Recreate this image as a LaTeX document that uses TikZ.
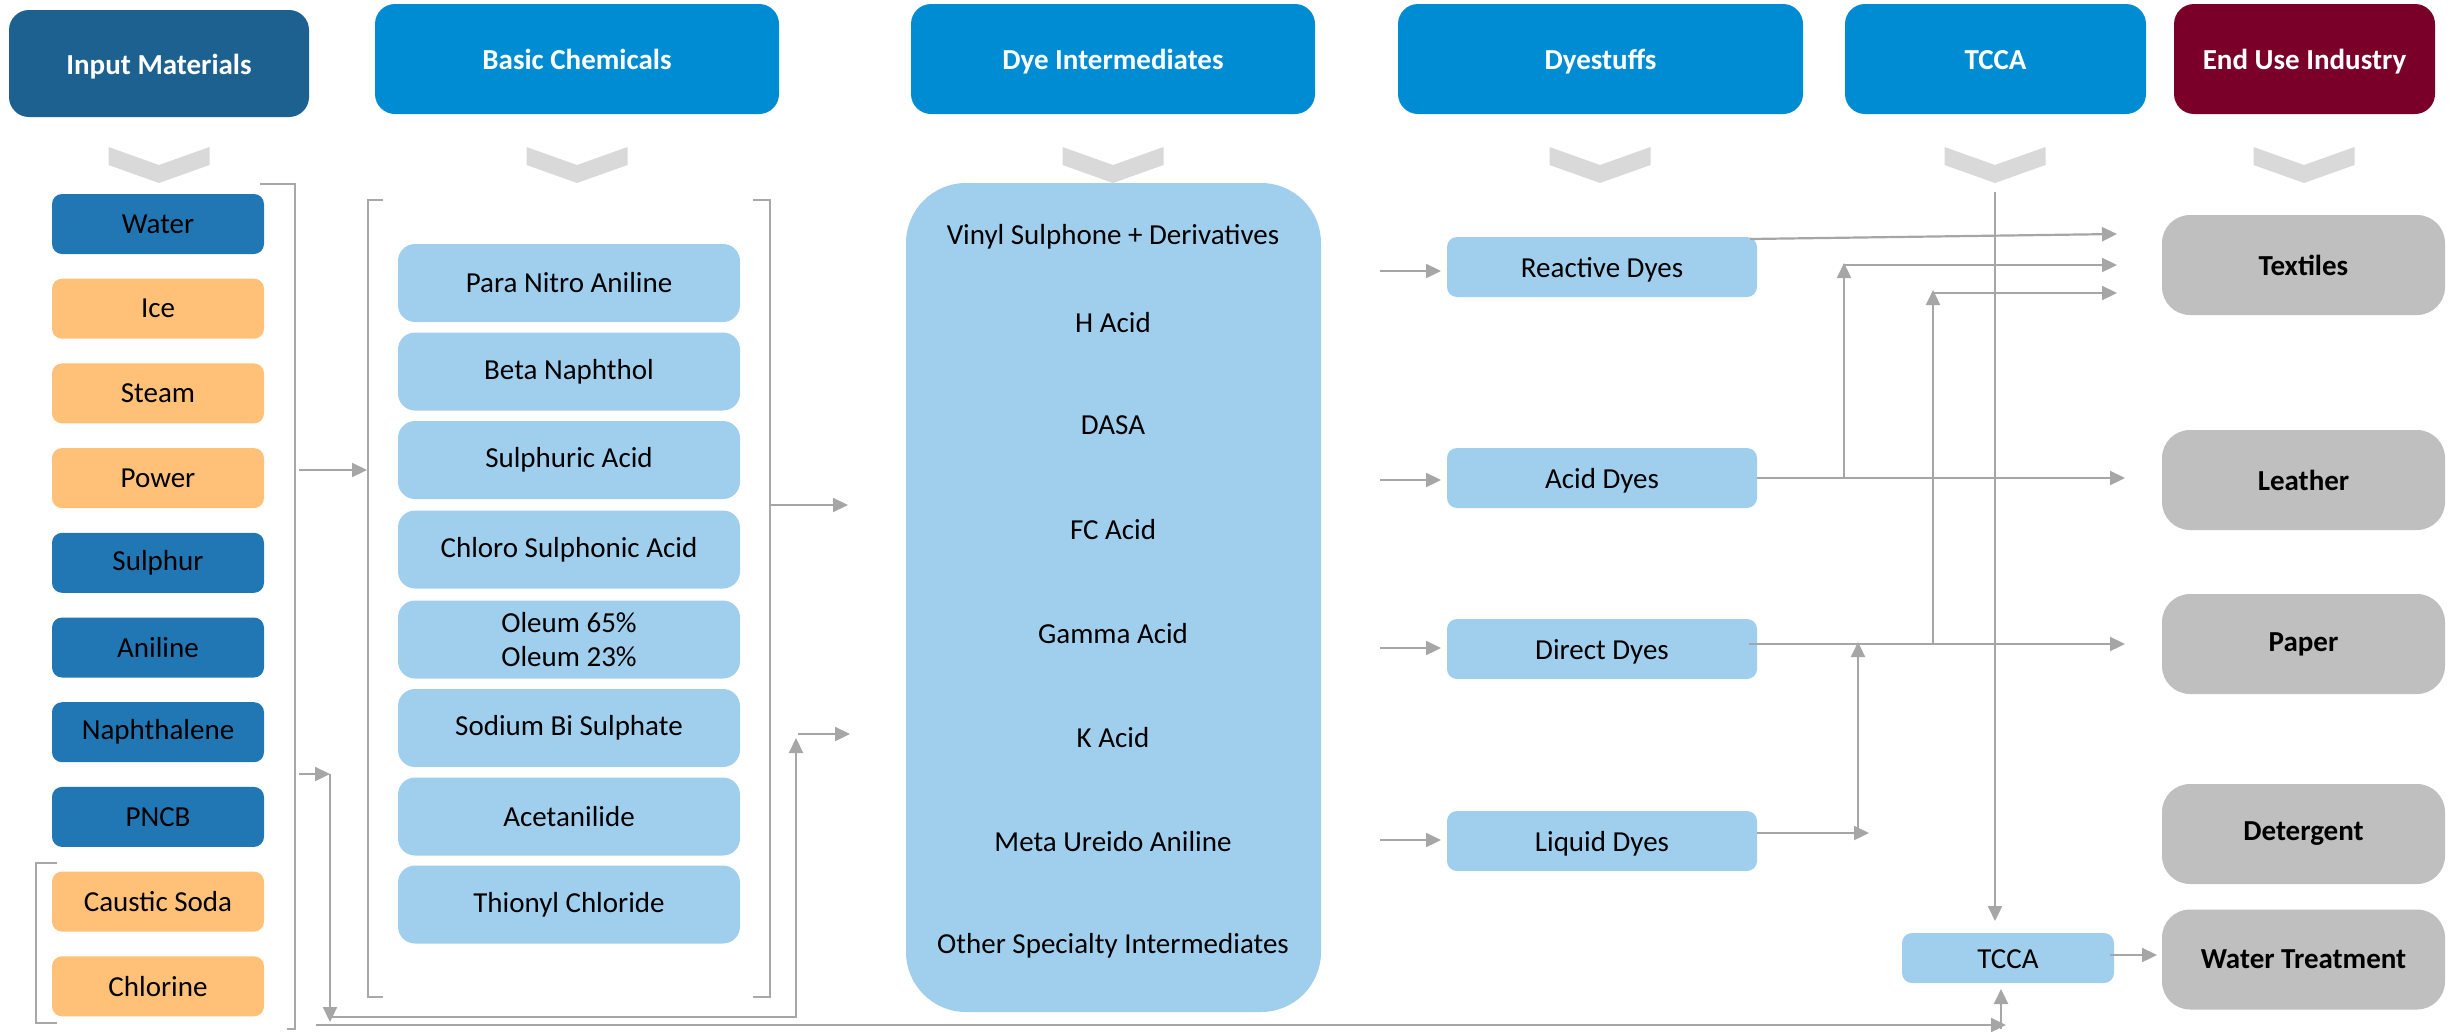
\documentclass[tikz,border=0pt]{standalone}
\usepackage{fontspec}
\setmainfont{Carlito}
\usetikzlibrary{arrows.meta,calc}
\definecolor{hdrdark}{HTML}{1D6191}
\definecolor{hdrblue}{HTML}{008CD3}
\definecolor{hdrred}{HTML}{7A0029}
\definecolor{itemdark}{HTML}{2077B4}
\definecolor{itemorange}{HTML}{FFC177}
\definecolor{itemlight}{HTML}{A0CFEE}
\definecolor{enduse}{HTML}{BFBFBF}
\definecolor{chevgray}{HTML}{D9D9D9}
\definecolor{linegray}{HTML}{A6A6A6}
\definecolor{brgray}{HTML}{A8A8A8}
\newcommand\txtfont{\fontsize{29}{34}\selectfont}
\begin{document}
\begin{tikzpicture}[x=1pt,y=-1pt,
  every node/.style={inner sep=0pt, outer sep=0pt, align=center},
  hdr/.style={rounded corners=20pt, minimum height=110pt, text=white, font=\txtfont\bfseries, text height=21.5pt, text depth=0pt},
  inbox/.style={rounded corners=10pt, minimum width=212pt, minimum height=60pt, font=\txtfont},
  bcbox/.style={fill=itemlight, rounded corners=17pt, minimum width=342pt, minimum height=78pt, font=\txtfont},
  ditxt/.style={font=\txtfont},
  dsbox/.style={fill=itemlight, rounded corners=10pt, minimum width=310pt, minimum height=60pt, font=\txtfont, text height=22pt, text depth=2pt},
  eubox/.style={fill=enduse, rounded corners=28pt, minimum width=283pt, minimum height=100pt, font=\txtfont\bfseries},
  brk/.style={draw=brgray, line width=2pt},
  arr/.style={draw=linegray, line width=2.2pt, -{Triangle[length=15pt,width=14pt]}},
  ln/.style={draw=linegray, line width=2.2pt}
]
\useasboundingbox (0,0) rectangle (2450,1031);

% headers
\node[hdr, fill=hdrdark, minimum width=300pt, minimum height=107pt] (hIn) at (159,63.5) {Input Materials};
\node[hdr, fill=hdrblue, minimum width=404pt] (hBC) at (577,59) {Basic Chemicals};
\node[hdr, fill=hdrblue, minimum width=404pt] (hDI) at (1113,59) {Dye Intermediates};
\node[hdr, fill=hdrblue, minimum width=405pt] (hDS) at (1600.5,59) {Dyestuffs};
\node[hdr, fill=hdrblue, minimum width=301pt] (hTC) at (1995.5,59) {TCCA};
\node[hdr, fill=hdrred, minimum width=261pt] (hEU) at (2304.5,59) {End Use Industry};

% chevrons
\foreach \cx in {159,577,1113,1600,1995,2304}
  \fill[chevgray] (\cx-50.5,147) -- (\cx,165) -- (\cx+50.5,147) -- (\cx+50.5,165) -- (\cx,183) -- (\cx-50.5,165) -- cycle;

% input materials
\node[inbox, fill=itemdark]   (in0) at (158,224.0) {Water};
\node[inbox, fill=itemorange] (in1) at (158,308.7) {Ice};
\node[inbox, fill=itemorange] (in2) at (158,393.4) {Steam};
\node[inbox, fill=itemorange] (in3) at (158,478.1) {Power};
\node[inbox, fill=itemdark]   (in4) at (158,562.8) {Sulphur};
\node[inbox, fill=itemdark]   (in5) at (158,647.5) {Aniline};
\node[inbox, fill=itemdark]   (in6) at (158,732.2) {Naphthalene};
\node[inbox, fill=itemdark]   (in7) at (158,816.9) {PNCB};
\node[inbox, fill=itemorange] (in8) at (158,901.6) {Caustic Soda};
\node[inbox, fill=itemorange] (in9) at (158,986.3) {Chlorine};

% brackets
\draw[brk] (260,184) -- (295,184) -- (295,1029) -- (287,1029);
\draw[brk] (57,863) -- (36,863) -- (36,1023) -- (57,1023);
\draw[brk] (383,200) -- (368,200) -- (368,997) -- (383,997);
\draw[brk] (753,200) -- (769.5,200) -- (769.5,997) -- (753,997);

% basic chemicals
\node[bcbox] (bc0) at (569,283)   {Para Nitro Aniline};
\node[bcbox] (bc1) at (569,371.5) {Beta Naphthol};
\node[bcbox] (bc2) at (569,460)   {Sulphuric Acid};
\node[bcbox] (bc3) at (569,549.5) {Chloro Sulphonic Acid};
\node[bcbox] (bc4) at (569,639.5) {Oleum 65\%\\Oleum 23\%};
\node[bcbox] (bc5) at (569,728)   {Sodium Bi Sulphate};
\node[bcbox] (bc6) at (569,816.5) {Acetanilide};
\node[bcbox] (bc7) at (569,904.5) {Thionyl Chloride};

% dye intermediates
\node[fill=itemlight, rounded corners=60pt, minimum width=415pt, minimum height=829pt] (di) at (1113.5,597.5) {};
\node[ditxt] (di1) at (1113,237)   {Vinyl Sulphone + Derivatives};
\node[ditxt] (di2) at (1113,323)   {H Acid};
\node[ditxt] (di3) at (1113,425.5) {DASA};
\node[ditxt] (di4) at (1113,530)   {FC Acid};
\node[ditxt] (di5) at (1113,634)   {Gamma Acid};
\node[ditxt] (di6) at (1113,738)   {K Acid};
\node[ditxt] (di7) at (1113,842)   {Meta Ureido Aniline};
\node[ditxt] (di8) at (1113,946)   {Other Specialty Intermediates};

% dyestuffs
\node[dsbox] (re) at (1602,267) {Reactive Dyes};
\node[dsbox] (ac) at (1602,478) {Acid Dyes};
\node[dsbox] (dr) at (1602,649) {Direct Dyes};
\node[dsbox] (lq) at (1602,841) {Liquid Dyes};

% TCCA box
\node[dsbox, minimum width=212pt, minimum height=50pt] (tc) at (2008,958) {TCCA};

% end use
\node[eubox] (tex) at (2303.5,265)   {Textiles};
\node[eubox] (lea) at (2303.5,480)   {Leather};
\node[eubox] (pap) at (2303.5,644)   {Paper};
\node[eubox] (det) at (2303.5,834)   {Detergent};
\node[eubox] (wat) at (2303.5,959.5) {Water Treatment};

% coordinates
\coordinate (inR1) at (299,470);
\coordinate (bcL1) at (367,470);
\coordinate (inR2) at (299,774);
\coordinate (j1) at (330,774);
\coordinate (j1b) at (330,1022);
\coordinate (j2) at (330,1017);
\coordinate (j3) at (796,1017);
\coordinate (j4) at (796,738);
\coordinate (j5) at (798,734);
\coordinate (diL2) at (850,734);
\coordinate (bcR) at (770,505);
\coordinate (diL1) at (848,505);
\coordinate (botS) at (316,1025);
\coordinate (botE) at (2006,1025);
\coordinate (tcB) at (2001,1029);
\coordinate (tcV) at (1995,192);
\coordinate (dsI1) at (1380,271);
\coordinate (dsI2) at (1380,480);
\coordinate (dsI3) at (1380,648);
\coordinate (dsI4) at (1380,840);
\coordinate (reS) at (1750,239);
\coordinate (texA) at (2117,234);
\coordinate (texB) at (2117,265);
\coordinate (texC) at (2117,293);
\coordinate (acV) at (1844,478);
\coordinate (acT) at (1844,263);
\coordinate (acH) at (1843,265);
\coordinate (drV) at (1933,644);
\coordinate (drT) at (1933,290);
\coordinate (drH) at (1932,293);
\coordinate (leaA) at (2125,478);
\coordinate (papA) at (2125,644);
\coordinate (lqE) at (1869,833);
\coordinate (lqV) at (1858,833);
\coordinate (lqT) at (1858,642);

% connectors left
\draw[arr] (inR1) -- (bcL1);
\draw[arr] (inR2) -- (j1);
\draw[arr] (j1) -- (j1b);
\draw[arr] (j2) -- (j3) -- (j4);
\draw[arr] (j5) -- (diL2);
\draw[arr] (bcR) -- (diL1);
\draw[arr] (botS) -- (botE);
\draw[arr] (tcB) -- ([yshift=-6pt]tc.south -| tcB);

% into dyestuffs
\draw[arr, shorten >=6pt] (dsI1) -- (dsI1 -| re.west);
\draw[arr, shorten >=6pt] (dsI2) -- (dsI2 -| ac.west);
\draw[arr, shorten >=6pt] (dsI3) -- (dsI3 -| dr.west);
\draw[arr, shorten >=6pt] (dsI4) -- (dsI4 -| lq.west);

% dyestuffs to end use
\draw[arr] (reS) -- (texA);
\draw[arr] (ac.east |- acV) -- (leaA);
\draw[arr] (acV) -- (acT);
\draw[arr] (acH) -- (texB);
\draw[arr] ([xshift=-8pt]dr.east |- drV) -- (papA);
\draw[arr] (drV) -- (drT);
\draw[arr] (drH) -- (texC);
\draw[arr] (lq.east |- lqE) -- (lqE);
\draw[arr] (lqV) -- (lqT);

% TCCA
\draw[arr] (tcV) -- ([yshift=12pt]tc.north -| tcV);
\draw[arr, shorten >=5pt] ([xshift=-4pt]tc.east |- 0,955) -- (wat.west |- 0,955);
\end{tikzpicture}
\end{document}
